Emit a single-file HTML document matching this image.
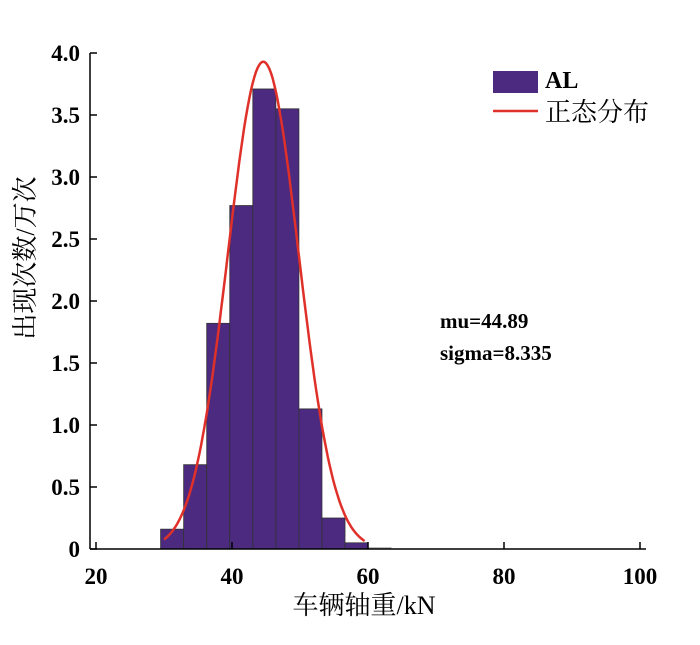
<!DOCTYPE html>
<html><head><meta charset="utf-8"><style>
body{margin:0;background:#fff;}
svg text{font-family:"Liberation Serif","Noto Serif CJK SC",serif;}
</style></head><body>
<svg id="c" width="700" height="640" xmlns="http://www.w3.org/2000/svg"></svg>
<script>
const binEdgesStart = 29.5;
const binWidth = 3.39;
const binValues = [0.16, 0.68, 1.82, 2.77, 3.71, 3.55, 1.13, 0.25, 0.05, 0.01];
const xTicks = [20, 40, 60, 80, 100];
const yTicks = [0, 0.5, 1.0, 1.5, 2.0, 2.5, 3.0, 3.5, 4.0];
const yTickLabels = ["0", "0.5", "1.0", "1.5", "2.0", "2.5", "3.0", "3.5", "4.0"];
const curveMu = 44.6;
const curveSigma = 5.2;
const curvePeak = 3.93;
const curveRange = [30, 59.5];

const X = v => 96 + (v - 20) * 6.8;
const Y = v => 549 - v * 124;
const svg = document.getElementById('c');
const NS = 'http://www.w3.org/2000/svg';
function mk(tag, attrs, parent) { const e = document.createElementNS(NS, tag); for (const k in attrs) e.setAttribute(k, attrs[k]); (parent || svg).appendChild(e); return e; }

const bars = mk('g', {});


binValues.forEach((v, i) => {
  const x0 = X(binEdgesStart + i * binWidth), x1 = X(binEdgesStart + (i + 1) * binWidth);
  const last = i === binValues.length - 1;
  const r = mk('rect', {x: x0, y: Y(v), width: x1 - x0, height: Y(0) - Y(v), fill: last ? '#999' : '#4b2a7f', stroke: last ? '#999' : '#333', 'stroke-width': 0.8}, bars);
  
  
});

let d = '';
for (let i = 0; i <= 120; i++) {
  const x = curveRange[0] + (curveRange[1] - curveRange[0]) * i / 120;
  const y = curvePeak * Math.exp(-0.5 * ((x - curveMu) / curveSigma) ** 2);
  d += (i ? 'L' : 'M') + X(x).toFixed(1) + ',' + Y(y).toFixed(1);
}
const curve = mk('path', {d: d, fill: 'none', stroke: '#e0302a', 'stroke-width': 2.5});



const ax = mk('g', {stroke: '#000', 'stroke-width': 1.5});


mk('line', {x1: 90, y1: 53, x2: 90, y2: 549}, ax);
mk('line', {x1: 90, y1: 549, x2: 646, y2: 549}, ax);
yTicks.forEach((t, i) => {
  mk('line', {x1: 90, y1: Y(t), x2: 97, y2: Y(t)}, ax);
  const tx = mk('text', {x: 80, y: Y(t) + 8, 'text-anchor': 'end', 'font-size': 23, 'font-weight': 'bold'});
  tx.textContent = yTickLabels[i];
  
  
});
xTicks.forEach(t => {
  mk('line', {x1: X(t), y1: 549, x2: X(t), y2: 542}, ax);
  const tx = mk('text', {x: X(t), y: 584, 'text-anchor': 'middle', 'font-size': 23, 'font-weight': 'bold'});
  tx.textContent = t;
  
  
});
</script>
<div style="position:absolute;left:0;top:0;width:700px;height:640px;pointer-events:none">
<svg width="700" height="640" xmlns="http://www.w3.org/2000/svg" style="font-family:'Liberation Serif','Noto Serif CJK SC',serif">
<text x="364" y="614" text-anchor="middle" font-size="26">车辆轴重/kN</text>
<text transform="translate(34,258) rotate(-90)" text-anchor="middle" font-size="26">出现次数/万次</text>
<g>
<rect x="493" y="71" width="45" height="22" fill="#4b2a7f"/>
<text x="545" y="88" font-size="24" font-weight="bold">AL</text>
<line x1="493" y1="111" x2="538" y2="111" stroke="#e0302a" stroke-width="2.5"/>
<text x="545" y="121" font-size="26">正态分布</text>
</g>
<text x="440" y="328" font-size="21" font-weight="bold">mu=44.89</text>
<text x="440" y="360" font-size="21" font-weight="bold">sigma=8.335</text>
</svg></div>
</body></html>
